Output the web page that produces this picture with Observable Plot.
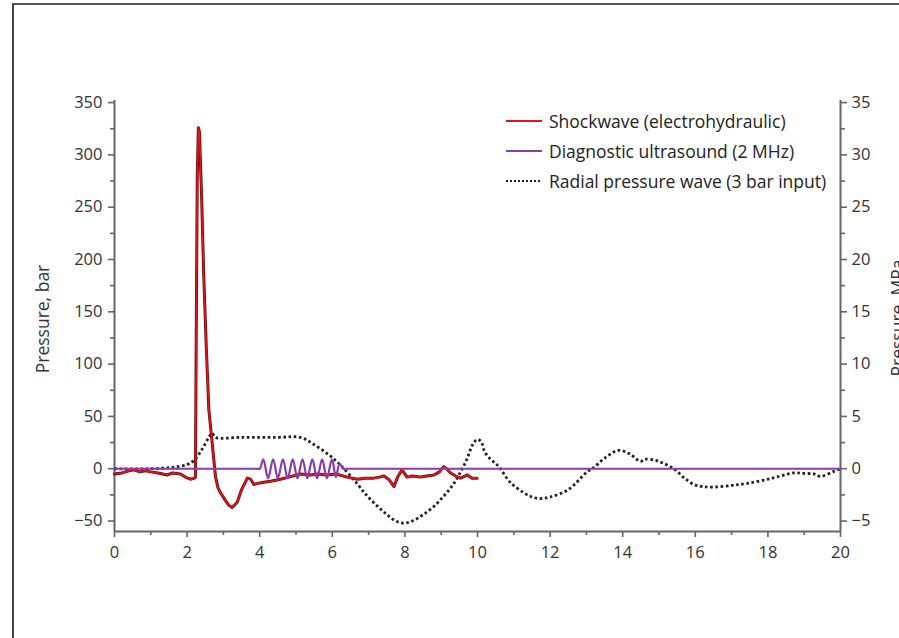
<!DOCTYPE html>
<html>
<head>
<meta charset="utf-8">
<script src="https://cdn.jsdelivr.net/npm/d3@7"></script>
<script src="https://cdn.jsdelivr.net/npm/@observablehq/plot@0.6"></script>
<style>
  html, body { margin: 0; padding: 0; background: #fff; overflow: hidden; }
  #wrap { position: relative; width: 899px; height: 638px; font-family: "Open Sans", "Noto Sans", sans-serif; }
  #frame { position: absolute; left: 12px; top: 3px; width: 900px; height: 700px; border-left: 2px solid #444; border-top: 2px solid #555; }
  #chart { position: absolute; left: 0; top: 0; }
  .ylab { position: absolute; font-size: 17.5px; color: #333; white-space: nowrap; transform-origin: center center; }
  #legend { position: absolute; left: 506px; top: 106px; font-size: 17.5px; color: #222; }
  #legend .row { display: flex; align-items: center; height: 30px; }
  #legend svg { margin-right: 7px; }
</style>
</head>
<body>
<div id="wrap">
  <div id="frame"></div>
  <div id="chart"></div>
  <div class="ylab" id="ylabL">Pressure, bar</div>
  <div class="ylab" id="ylabR">Pressure, MPa</div>
  <div id="legend"></div>
</div>
<script>
// ---- data (time on x, pressure in bar on the left axis) ----
const shockX = [0, 0.2, 0.4, 0.53, 0.7, 0.85, 1.0, 1.2, 1.45, 1.6, 1.82, 1.95, 2.09, 2.2, 2.23, 2.25, 2.28, 2.31, 2.34, 2.4, 2.46, 2.53, 2.6, 2.69, 2.78, 2.85, 2.92, 3.05, 3.15, 3.24, 3.38, 3.5, 3.66, 3.75, 3.84, 3.95, 4.11, 4.3, 4.57, 4.8, 5.12, 5.4, 5.6, 5.86, 6.1, 6.41, 6.55, 6.69, 6.9, 7.14, 7.3, 7.42, 7.55, 7.7, 7.8, 7.92, 8.06, 8.2, 8.43, 8.6, 8.8, 8.95, 9.07, 9.15, 9.26, 9.4, 9.53, 9.65, 9.72, 9.85, 9.99];
const shockY = [-5, -4, -2, -1, -3, -2, -3, -4, -6, -4, -5, -8, -10, -9, -8, 120, 280, 326, 322, 260, 183, 115, 56, 25, -7, -18, -23, -30, -35, -37, -32, -20, -9, -10, -15, -14, -13, -12, -10, -8, -5, -6, -5, -6, -5, -8, -9, -10, -9, -9, -8, -7, -10, -17, -8, -1, -8, -7, -8, -7, -6, -3, 2, 0, -4, -7, -9, -7, -6, -9, -9];

const ultraX = [0, 3.9, 4.0, 4.1, 4.23, 4.37, 4.5, 4.64, 4.77, 4.91, 5.04, 5.18, 5.31, 5.45, 5.58, 5.72, 5.85, 5.99, 6.1, 6.2, 6.3, 6.4, 20];
const ultraY = [0, 0, 0, 9, -9, 9, -9, 9, -9, 9, -9, 9, -9, 9, -9, 9, -9, 9, -8, 5, 0, 0, 0];

const radialX = [0, 1.0, 1.5, 1.73, 2.0, 2.19, 2.4, 2.6, 2.69, 2.78, 3.5, 4.5, 5.12, 5.5, 5.95, 6.32, 6.7, 6.96, 7.25, 7.51, 7.75, 7.97, 8.2, 8.5, 8.8, 9.1, 9.35, 9.55, 9.72, 9.85, 9.99, 10.1, 10.2, 10.36, 10.5, 10.63, 10.9, 11.28, 11.5, 11.74, 12.0, 12.5, 13.02, 13.2, 13.5, 13.88, 14.2, 14.49, 14.6, 14.9, 15.13, 15.41, 15.7, 15.96, 16.2, 16.51, 17.0, 17.43, 18.07, 18.71, 19.0, 19.27, 19.45, 19.82, 20];
const radialY = [0, 0, 1, 2, 4, 8, 18, 30, 34, 30, 30, 30, 30, 23, 12, 0, -15, -26, -36, -44, -50, -52, -50, -44, -36, -25, -14, -2, 10, 22, 28, 26, 16, 9, 5, 0, -13, -23, -27, -28.5, -27, -20, -3, 1, 10, 17.5, 14, 7, 9, 8, 5, 0, -9, -15, -17, -17.5, -16, -14, -9.5, -4, -4.5, -5, -7.3, -2.5, 0];

const xTicks = [0, 2, 4, 6, 8, 10, 12, 14, 16, 18, 20];
const xMinor = [1, 3, 5, 7, 9, 11, 13, 15, 17, 19];
const yTicksBar = [-50, 0, 50, 100, 150, 200, 250, 300, 350];
const yMinorBar = [-25, 25, 75, 125, 175, 225, 275, 325];
const yTicksMPa = [-5, 0, 5, 10, 15, 20, 25, 30, 35];
const yMinorMPa = [-2.5, 2.5, 7.5, 12.5, 17.5, 22.5, 27.5, 32.5];

const seriesNames = ["Shockwave (electrohydraulic)", "Diagnostic ultrasound (2 MHz)", "Radial pressure wave (3 bar input)"];
const seriesColors = ["#e3151c", "#8a3cab", "#222"];

const zip = (xs, ys) => xs.map((x, i) => ({x, y: ys[i]}));
const shock = zip(shockX, shockY);
const ultra = zip(ultraX, ultraY);
const radial = zip(radialX, radialY);

const W = 899, H = 638;
const fs = 16.5;
const axisColor = "#666";

const plot = Plot.plot({
  width: W, height: H,
  marginLeft: 114, marginRight: 59, marginTop: 100, marginBottom: 107,
  style: {fontFamily: "'Open Sans', 'Noto Sans', sans-serif", color: "#333", background: "transparent", overflow: "visible"},
  x: {domain: [0, 20], axis: null},
  y: {domain: [-60, 352], axis: null},
  marks: [
    // axes lines
    Plot.ruleX([0], {y1: -60, y2: 352, stroke: axisColor, strokeWidth: 2}),
    Plot.ruleX([20], {y1: -60, y2: 352, stroke: axisColor, strokeWidth: 2}),
    Plot.ruleY([-60], {x1: 0, x2: 20, stroke: axisColor, strokeWidth: 2}),
    // left axis
    Plot.axisY(yTicksBar, {anchor: "left", tickSize: 6, tickPadding: 6, fontSize: fs, stroke: axisColor, strokeWidth: 1.6, fill: "#333", label: null}),
    Plot.axisY(yMinorBar, {anchor: "left", tickSize: 4, tickFormat: () => "", stroke: axisColor, strokeWidth: 1.6, label: null}),
    // right axis (MPa = bar / 10)
    Plot.axisY(yTicksMPa.map(v => v * 10), {anchor: "right", tickSize: 6, tickPadding: 5, fontSize: fs, tickFormat: d => String(d / 10).replace("-", "\u2212"), stroke: axisColor, strokeWidth: 1.6, fill: "#333", label: null}),
    Plot.axisY(yMinorMPa.map(v => v * 10), {anchor: "right", tickSize: 4, tickFormat: () => "", stroke: axisColor, strokeWidth: 1.6, label: null}),
    // bottom axis
    Plot.axisX(xTicks, {anchor: "bottom", tickSize: 6, tickPadding: 9, fontSize: fs, stroke: axisColor, strokeWidth: 1.6, fill: "#333", label: null}),
    Plot.axisX(xMinor, {anchor: "bottom", tickSize: 4, tickFormat: () => "", stroke: axisColor, strokeWidth: 1.6, label: null}),
    // series
    Plot.line(radial, {x: "x", y: "y", curve: "catmull-rom", stroke: seriesColors[2], strokeWidth: 2.8, strokeDasharray: "2.6,2.6", strokeLinecap: "butt"}),
    Plot.line(shock, {x: "x", y: "y", curve: "linear", stroke: "#6a0a0a", strokeWidth: 3}),
    Plot.line(shock, {x: "x", y: "y", curve: "linear", stroke: seriesColors[0], strokeWidth: 1.6}),
    Plot.line(ultra, {x: "x", y: "y", curve: "catmull-rom", stroke: seriesColors[1], strokeWidth: 2.2})
  ]
});
document.getElementById("chart").appendChild(plot);

// axis titles
const yl = document.getElementById("ylabL");
yl.style.left = (42 - 60) + "px"; yl.style.top = (319 - 12) + "px"; yl.style.width = "120px"; yl.style.textAlign = "center";
yl.style.transform = "rotate(-90deg)";
const yr = document.getElementById("ylabR");
yr.style.left = (897 - 65) + "px"; yr.style.top = (318 - 12) + "px"; yr.style.width = "130px"; yr.style.textAlign = "center";
yr.style.transform = "rotate(-90deg)";

// legend
const leg = document.getElementById("legend");
seriesNames.forEach((name, i) => {
  const row = document.createElement("div");
  row.className = "row";
  const dash = i === 2 ? 'stroke-dasharray="2,2"' : "";
  const sw = i === 2 ? 2.2 : 2;
  row.innerHTML = `<svg width="36" height="10"><line x1="0" x2="36" y1="5" y2="5" stroke="${seriesColors[i]}" stroke-width="${sw}" ${dash}/></svg><span>${name}</span>`;
  leg.appendChild(row);
});
</script>
</body>
</html>
